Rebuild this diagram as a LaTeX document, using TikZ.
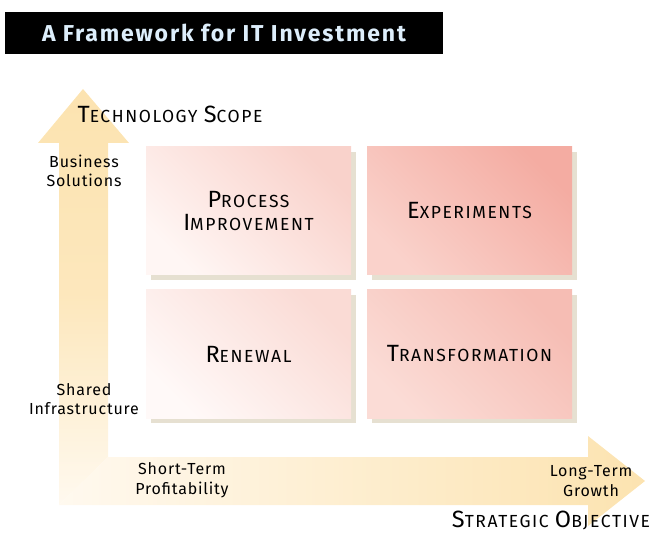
\documentclass[tikz,border=0pt]{standalone}
\usepackage{fontspec}
\setmainfont{Fira Sans}[LetterSpace=5]
\newfontfamily\capsfont{Fira Sans}[LetterSpace=9]
\newfontfamily\titlefont{Fira Sans}[LetterSpace=8]
\pgfdeclarelayer{background}
\pgfsetlayers{background,main}
\definecolor{arrowfull}{HTML}{FCE3B0}
\definecolor{arrowpale}{HTML}{FFF9EF}
\definecolor{shadowc}{HTML}{E6E0D1}
\definecolor{titlefg}{HTML}{DDEEFB}
\definecolor{paleA}{HTML}{FFF6F4}
\definecolor{pinkA}{HTML}{F9D2CB}
\definecolor{paleB}{HTML}{FAD2CB}
\definecolor{pinkB}{HTML}{F4ACA2}
\definecolor{paleC}{HTML}{FFF9F8}
\definecolor{pinkC}{HTML}{FADBD5}
\definecolor{paleD}{HTML}{FBDCD6}
\definecolor{pinkD}{HTML}{F6BDB4}
% fake small caps: large initial, smaller capitals after it
\newcommand\capsA[2]{{\capsfont\fontsize{23.5}{28}\selectfont #1}{\capsfont\fontsize{17.5}{21}\selectfont #2}}
\newcommand\capsgap{{\capsfont\fontsize{17.5}{21}\selectfont\ }}
\tikzset{
  quad/.style={minimum width=205pt, minimum height=128pt, inner sep=0pt,
    align=center},
  sidelabel/.style={align=center, font=\fontsize{16}{19.5}\selectfont, inner sep=0pt},
  axislabel/.style={anchor=base, inner sep=0pt},
  boxshadow/.style={fill=shadowc},
}
\begin{document}
\begin{tikzpicture}[x=1pt,y=-1pt]
\useasboundingbox (0,0) rectangle (658,534);

% title bar
\node[fill=black, text=titlefg, minimum width=438pt, minimum height=42pt,
  font=\titlefont\fontsize{23}{25}\selectfont\bfseries] (title) at (224,33) {A Framework for IT Investment};

% axis arrows
\coordinate (vb) at (59,505);
\coordinate (corner) at (108,457);
\shade[top color=arrowfull, bottom color=arrowpale, middle color=arrowfull!80!arrowpale]
  (vb) -- (59,143) -- (38,143) -- (83,89) -- (129,143) -- (108,143) -- (corner) -- cycle;
\shade[left color=arrowpale, right color=arrowfull]
  (vb) -- (corner) -- (588,457) -- (588,436) -- (645,481) -- (588,526) -- (588,505) -- cycle;

% quadrants
\node[quad, top color=pinkA, bottom color=paleA, shading angle=-45] (pi) at (248.5,211)
  {\capsA{P}{ROCESS}\\[6pt]\capsA{I}{MPROVEMENT}};
\node[quad, top color=pinkB, bottom color=paleB, shading angle=-45] (ex) at (469.5,211)
  {\capsA{E}{XPERIMENTS}};
\node[quad, top color=pinkC, bottom color=paleC, shading angle=-45] (re) at (248.5,354)
  {\capsA{R}{ENEWAL}};
\node[quad, top color=pinkD, bottom color=paleD, shading angle=-45] (tr) at (469.5,354)
  {\capsA{T}{RANSFORMATION}};

\begin{pgfonlayer}{background}
  \foreach \q in {pi,ex,re,tr}
    \fill[boxshadow] ([shift={(5pt,-5pt)}]\q.south west) rectangle ([shift={(5pt,-5pt)}]\q.north east);
\end{pgfonlayer}

% axis titles
\node[axislabel] (ts) at (170,123) {\capsA{T}{ECHNOLOGY}\capsgap\capsA{S}{COPE}};
\node[axislabel] (so) at (551,527) {\capsA{S}{TRATEGIC}\capsgap\capsA{O}{BJECTIVE}};

% scale ends
\node[sidelabel] (bs) at (84,171) {Business\\Solutions};
\node[sidelabel] (si) at (84,399) {Shared\\Infrastructure};
\node[sidelabel] (sp) at (182,480) {Short-Term\\Profitability};
\node[sidelabel] (lg) at (591,481) {Long-Term\\Growth};
\end{tikzpicture}
\end{document}
